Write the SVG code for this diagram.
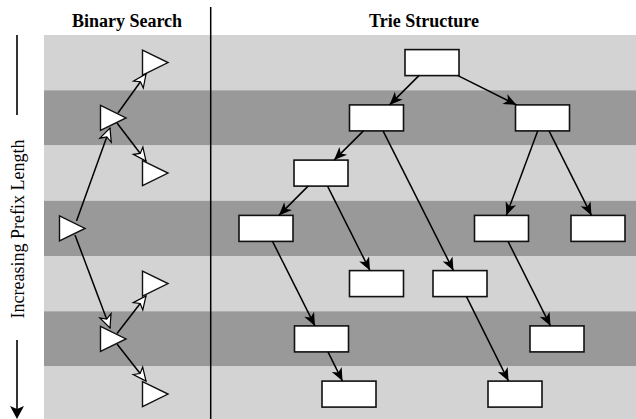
<svg xmlns="http://www.w3.org/2000/svg" width="636" height="419" viewBox="0 0 636 419">
<style>
.light{fill:#d3d3d3}
.dark{fill:#999999}
.box{fill:#fff;stroke:#111;stroke-width:1.6}
.tri{fill:#fff;stroke:#111;stroke-width:1.4;stroke-linejoin:miter}
.edge{stroke:#000;stroke-width:1.5;fill:none;marker-end:url(#ah)}
.bedge{stroke:#000;stroke-width:1.5;fill:none;marker-end:url(#hollow)}
.title{font-family:"Liberation Serif","Times New Roman",serif;font-weight:bold;font-size:18px;text-anchor:middle;fill:#000}
.axis{font-family:"Liberation Serif","Times New Roman",serif;font-size:18px;text-anchor:middle;fill:#000}
</style>
<defs>
<marker id="ah" markerUnits="userSpaceOnUse" markerWidth="14" markerHeight="12" refX="13" refY="5.5" orient="auto" overflow="visible">
<path d="M0,0 L13,5.5 L0,11 L3.5,5.5 z" fill="#000"/>
</marker>
<marker id="hollow" markerUnits="userSpaceOnUse" markerWidth="14" markerHeight="13" refX="13" refY="6" orient="auto" overflow="visible">
<path d="M0,0 L13,6 L0,12 L3.5,6 z" fill="#fff" stroke="#000" stroke-width="1.2" stroke-linejoin="miter"/>
</marker>
</defs>
<g id="bands">
<rect class="light" x="44" y="35" width="592" height="55.25"/>
<rect class="dark" x="44" y="90.25" width="592" height="55.25"/>
<rect class="light" x="44" y="145.5" width="592" height="55.25"/>
<rect class="dark" x="44" y="200.75" width="592" height="55.25"/>
<rect class="light" x="44" y="256" width="592" height="55.25"/>
<rect class="dark" x="44" y="311.25" width="592" height="55.25"/>
<rect class="light" x="44" y="366.5" width="592" height="55.25"/>
</g>
<g id="titles">
<text class="title" x="127" y="26.5">Binary Search</text>
<text class="title" x="424" y="26.5">Trie Structure</text>
</g>
<line x1="210.7" y1="7" x2="210.7" y2="419" stroke="#000" stroke-width="1.5"/>
<g id="axis">
<line x1="17" y1="35" x2="17" y2="115" stroke="#000" stroke-width="1.6"/>
<text class="axis" transform="translate(23.5,229) rotate(-90)">Increasing Prefix Length</text>
<line x1="17" y1="340" x2="17" y2="410" stroke="#000" stroke-width="1.6"/>
<path d="M17,419 L10,406 L17,409 L24,406 z" fill="#000"/>
</g>
<g id="bs-nodes">
<g id="t1"><path class="tri" d="M142.5,50.1 L168,62.6 L142.5,75.1 z"/></g>
<g id="t2"><path class="tri" d="M100.5,105.4 L126,117.9 L100.5,130.4 z"/></g>
<g id="t3"><path class="tri" d="M142.5,160.6 L168,173.1 L142.5,185.6 z"/></g>
<g id="t4"><path class="tri" d="M59.5,215.9 L85,228.4 L59.5,240.9 z"/></g>
<g id="t5"><path class="tri" d="M142.5,271.1 L168,283.6 L142.5,296.1 z"/></g>
<g id="t6"><path class="tri" d="M100.5,326.4 L126,338.9 L100.5,351.4 z"/></g>
<g id="t7"><path class="tri" d="M142.5,381.6 L168,394.1 L142.5,406.6 z"/></g>
</g>
<g id="trie-nodes">
<g id="r"><rect class="box" x="405" y="49.6" width="54" height="26"/></g>
<g id="a"><rect class="box" x="349.5" y="104.9" width="54" height="26"/></g>
<g id="b"><rect class="box" x="515.5" y="104.9" width="54" height="26"/></g>
<g id="c"><rect class="box" x="294" y="160.1" width="54" height="26"/></g>
<g id="d"><rect class="box" x="239" y="215.4" width="54" height="26"/></g>
<g id="e"><rect class="box" x="474.5" y="215.4" width="54" height="26"/></g>
<g id="f"><rect class="box" x="571" y="215.4" width="54" height="26"/></g>
<g id="g"><rect class="box" x="349.5" y="270.6" width="54" height="26"/></g>
<g id="h"><rect class="box" x="433" y="270.6" width="54" height="26"/></g>
<g id="i"><rect class="box" x="294.5" y="325.9" width="54" height="26"/></g>
<g id="j"><rect class="box" x="530" y="325.9" width="54" height="26"/></g>
<g id="k"><rect class="box" x="322" y="381.1" width="54" height="26"/></g>
<g id="l"><rect class="box" x="488" y="381.1" width="54" height="26"/></g>
</g>
<g id="connectors">
<line class="bedge" x1="76.5" y1="221" x2="110" y2="128"/>
<line class="bedge" x1="118" y1="113" x2="146" y2="74"/>
<line class="bedge" x1="117" y1="123" x2="146" y2="161"/>
<line class="bedge" x1="75" y1="235" x2="110" y2="328"/>
<line class="bedge" x1="117" y1="333.5" x2="146" y2="296"/>
<line class="bedge" x1="117" y1="344" x2="146" y2="381"/>
<line class="edge" x1="418.95" y1="75.6" x2="389.55" y2="104.9"/>
<line class="edge" x1="457.97" y1="75.6" x2="516.53" y2="104.9"/>
<line class="edge" x1="363.43" y1="130.9" x2="334.07" y2="160.1"/>
<line class="edge" x1="383.05" y1="130.9" x2="453.45" y2="270.6"/>
<line class="edge" x1="308.07" y1="186.1" x2="278.93" y2="215.4"/>
<line class="edge" x1="327.53" y1="186.1" x2="369.97" y2="270.6"/>
<line class="edge" x1="537.68" y1="130.9" x2="506.32" y2="215.4"/>
<line class="edge" x1="549.03" y1="130.9" x2="591.47" y2="215.4"/>
<line class="edge" x1="272.53" y1="241.4" x2="314.97" y2="325.9"/>
<line class="edge" x1="508.03" y1="241.4" x2="550.47" y2="325.9"/>
<line class="edge" x1="466.47" y1="296.6" x2="508.53" y2="381.1"/>
<line class="edge" x1="327.98" y1="351.9" x2="342.52" y2="381.1"/>
</g>
</svg>
